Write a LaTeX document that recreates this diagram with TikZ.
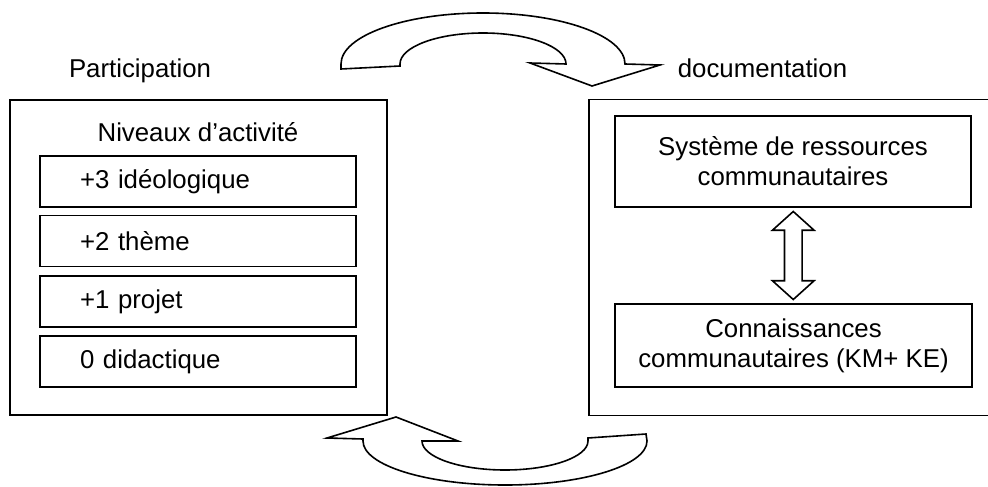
\documentclass[tikz,border=0pt]{standalone}
\usepackage{fontspec}
\setmainfont{Liberation Sans}
\usetikzlibrary{calc,shapes.arrows}

\begin{document}
\begin{tikzpicture}
[x=0.5pt,y=-0.5pt,
  every node/.style={font=\fontsize{12.9}{15}\selectfont},
  boxdecorate/.style={draw,line width=0.9pt,inner sep=0pt},
  levelbox/.style={boxdecorate,minimum height=25.5pt,text width=118pt,inner xsep=20pt,align=left},
  resbox/.style={boxdecorate,align=center},
  bentarrow/.style={draw,line width=0.8pt,line join=miter,fill=white}]
\useasboundingbox (0,0) rectangle (988,486);
%% titles
\node[anchor=base] (parttitle) at (140,78) {Participation};
\node[anchor=base] (doctitle) at (762.5,78) {documentation};
%% left side: levels of activity
\node[boxdecorate,minimum width=188.5pt,minimum height=157.5pt] (partbox) at (198.5,257.5) {};
\node (levels) at (198,132) {Niveaux d’activité};
\foreach \nodename/\y/\txt in {lvlthree/181.5/+3 idéologique, lvltwo/241/+2 thème,
  lvlone/301.5/+1 projet, lvlzero/361.5/0 didactique}
{
  \node[levelbox] (\nodename) at (198,\y) {\txt};
}
%% right side: community resources
\node[minimum width=204.5pt,minimum height=157.5pt,inner sep=0pt] (docbox) at (793.5,257.5) {};
\draw[line width=0.9pt] (docbox.north east) -- (docbox.north west)
  -- (docbox.south west) -- (docbox.south east);
\node[resbox,minimum width=178pt,minimum height=45.5pt] (res) at (793,161.5)
  {Système de ressources\\communautaires};
\node[resbox,minimum width=178.5pt,minimum height=41.5pt] (conn) at (793.5,345.5)
  {Connaissances\\communautaires (KM+ KE)};
\node[double arrow,draw,line width=0.8pt,rotate=90,inner xsep=0pt,inner ysep=4pt,
  minimum height=44pt,minimum width=20pt,double arrow head extend=6pt,
  double arrow tip angle=96] (link) at ($(res.south)!0.5!(conn.north)$) {};
%% bent arrows between the two sides
\draw[bentarrow] (625,64) .. controls (625,35.8) and (561.4,13) .. (483,13)
  .. controls (404.6,13) and (341,35.8) .. (341,64) -- (341,69) -- (400,66)
  -- (400,64) .. controls (400,46.9) and (437.2,33) .. (483,33)
  .. controls (528.8,33) and (566,46.9) .. (566,64) -- (530,63) -- (592,86)
  -- (660,65) -- cycle;
\draw[bentarrow] (396,417) -- (458,441) -- (422,441)
  .. controls (422,457) and (459.2,470) .. (505,470)
  .. controls (550.8,470) and (588,457) .. (588,441) -- (588,438) -- (646,434)
  -- (647,441) .. controls (647,465.3) and (583.4,485) .. (505,485)
  .. controls (426.6,485) and (363,465.3) .. (363,441) -- (363,439)
  -- (327,438) -- cycle;
\end{tikzpicture}
\end{document}
